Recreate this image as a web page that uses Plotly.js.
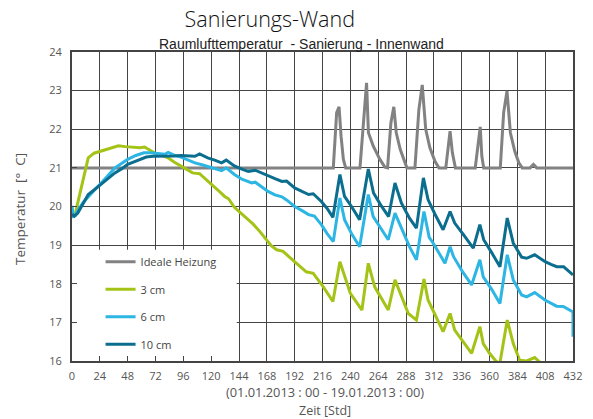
<!DOCTYPE html>
<html>
<head>
<meta charset="utf-8">
<script src="https://cdn.plot.ly/plotly-3.0.1.min.js"></script>
<style>html,body{margin:0;padding:0;background:#fff;}#chart{width:593px;height:419px;}</style>
</head>
<body>
<div id="chart"></div>
<script>
// ---- data ----
const seriesNames = ["Ideale Heizung", "3 cm", "6 cm", "10 cm"];
const xTicks = [0,24,48,72,96,120,144,168,192,216,240,264,288,312,336,360,384,408,432];
const yTicks = [16,17,18,19,20,21,22,23,24];

const hoursIdeal = [0,225.3,228.2,230.3,232,234,236,248.3,251.2,254,255.6,259.8,265.5,269.8,272.1,275,277.5,279.6,283,286.8,288.8,295.7,299.1,302,305,308.6,313,316.4,322.3,326,328,330.6,347.7,352,353.4,355,369.3,372.2,375.1,378,381.8,385.3,388.2,395,397.9,400.7,432];
const tempIdeal  = [21,21,22.43,22.58,21.82,21.22,21,21,22.12,23.2,21.91,21.56,21.22,21.02,21,22.17,22.58,21.91,21.48,21.13,21,21,22.51,23.15,22.0,21.52,21.17,21,21,21.95,21.39,21,21,22.06,21.3,21,21,22.43,22.99,21.91,21.43,21.13,21,21,21.09,21,21];

const hours3 = [0,2.6,5,9,14,19,24,32,40,46,54,58.6,62.6,71,77,82.8,88,94,99,104,110,115,120,126,131.6,135,140,147.4,152,156,162,168,172,176.5,182,187,192,202,208,216.7,225,231,240,250,255.5,261,272.7,278.5,290,297,303.5,307,320,326,330,337,344.6,351.7,354.6,360,366,369,375.3,380.5,386,392,399,403,410,420,432];
const temp3  = [19.8,19.78,20.1,20.6,21.26,21.38,21.43,21.5,21.57,21.55,21.52,21.52,21.54,21.39,21.33,21.26,21.15,21.04,20.95,20.87,20.85,20.72,20.57,20.42,20.26,20.2,19.98,19.78,19.66,19.55,19.35,19.14,18.98,18.88,18.84,18.7,18.57,18.31,18.27,17.92,17.54,18.57,17.75,17.32,18.53,17.92,17.32,18.1,17.23,17.06,18.12,17.58,16.76,17.23,16.8,16.5,16.2,16.89,16.45,16.2,15.98,15.95,17.06,16.45,16.02,16.0,16.09,15.98,15.85,15.7,15.5];

const hours6 = [0,1,3,6,10,14,20,25,31,37,43,48,55,62,68,74,80,83,88,94,100,106,112,117,123,129,133,140,147,155,158,164,169,175,181,185,192,198,204,209,215,220,225.3,231,235,241,248,255.5,259.7,266,272.7,278.5,284,291,297,303.5,308,311.5,321.6,326,329,337,344.6,351.7,354.6,362,369,375.3,380.5,387.7,392,399,407.8,417.8,423.6,432,432];
const temp6  = [20.02,19.75,19.78,19.95,20.12,20.26,20.45,20.6,20.8,21.0,21.12,21.22,21.32,21.39,21.39,21.37,21.35,21.4,21.33,21.28,21.2,21.13,21.08,21.03,20.98,20.93,21.0,20.83,20.7,20.61,20.63,20.5,20.39,20.3,20.25,20.17,20.0,19.9,19.79,19.75,19.53,19.3,19.09,20.22,19.66,19.3,18.96,20.31,19.74,19.45,19.14,19.83,19.44,18.96,18.62,19.87,19.2,19.05,18.53,18.96,18.7,18.3,17.97,18.62,18.18,17.85,17.49,18.75,18.1,17.71,17.66,17.77,17.58,17.42,17.41,17.27,16.63];

const hours10 = [0,2,5,9,14,20,25,31,37,43,48,54,60,64,70,76,82,88,94,100,106,110,117,123,129,133,140,147,152,158,164,169,175,181,185,192,198,204,208,215,220,225,231,235,241,248,255.5,260,266,273,278.5,284,291,297,303,307,313,320,326,330,338,346,351.7,355,362,369,375.3,380.5,387.7,392,399,408,413,418,424,432];
const temp10  = [19.8,19.75,19.83,20.05,20.31,20.45,20.57,20.72,20.87,20.98,21.09,21.16,21.22,21.28,21.3,21.3,21.3,21.31,21.32,21.31,21.3,21.36,21.26,21.2,21.13,21.2,21.05,20.96,20.91,20.94,20.86,20.78,20.72,20.65,20.66,20.48,20.4,20.31,20.33,20.13,19.95,19.72,20.83,20.26,20.0,19.66,20.97,20.35,20.05,19.74,20.61,20.09,19.7,19.44,20.74,20.18,19.8,19.4,19.87,19.57,19.25,18.92,19.53,19.14,18.8,18.44,19.7,19.05,18.69,18.66,18.75,18.57,18.5,18.44,18.44,18.23];

// ---- styles ----
const colors = ["#828282", "#a3c417", "#2db6e3", "#0b6e8f"];
const xs = [hoursIdeal, hours3, hours6, hours10];
const ys = [tempIdeal, temp3, temp6, temp10];

const traces = seriesNames.map((n, i) => ({
  type: "scatter", mode: "lines", name: n, x: xs[i], y: ys[i],
  legendgroup: "g" + i,
  line: {color: colors[i], width: 3},
  cliponaxis: true
}));

const tickFont = {family: "Open Sans, Noto Sans, sans-serif", size: 11, color: "#555"};
const axisCommon = {
  showgrid: true, gridcolor: "#444", gridwidth: 1,
  showline: true, linecolor: "#444", linewidth: 2, mirror: true,
  ticks: "inside", ticklen: 5, tickcolor: "#444", tickwidth: 1,
  zeroline: false, tickfont: tickFont, fixedrange: true
};

const layout = {
  width: 593, height: 419,
  margin: {l: 72, r: 20, t: 52, b: 58},
  paper_bgcolor: "#fff", plot_bgcolor: "#fff",
  title: {text: "Sanierungs-Wand", font: {family: "Open Sans, Noto Sans, sans-serif", size: 21.5, color: "#111", weight: 300},
          x: 0.455, xanchor: "center", xref: "container", y: 1 - 19/419, yanchor: "middle", yref: "container"},
  xaxis: Object.assign({}, axisCommon, {range: [0, 432], tickvals: xTicks, ticktext: xTicks.map(String), ticklabelstandoff: 4}),
  yaxis: Object.assign({}, axisCommon, {range: [16, 24], tickvals: yTicks, ticktext: yTicks.map(String), ticklabelstandoff: 6}),
  showlegend: true,
  legend: {x: 0.057, y: 0.368, xanchor: "left", yanchor: "top", bgcolor: "rgba(0,0,0,0)", borderwidth: 0,
           font: {family: "Open Sans, Noto Sans, sans-serif", size: 11, color: "#444"},
           traceorder: "grouped", tracegroupgap: 8.5},
  shapes: [{type: "rect", xref: "x", yref: "y", x0: 0, x1: 142, y0: 16, y1: 18.88,
            fillcolor: "#fff", line: {width: 0}, layer: "between"}],
  annotations: [
    {text: "Raumlufttemperatur\u00a0 - Sanierung - Innenwand", xref: "paper", yref: "paper", x: 0.459, y: (361-44)/309,
     xanchor: "center", yanchor: "middle", showarrow: false,
     font: {family: "Liberation Sans, Arial, sans-serif", size: 14, color: "#222"}},
    {text: "(01.01.2013 : 00 - 19.01.2013 : 00)", xref: "paper", yref: "paper", x: 0.504, y: -31/309,
     xanchor: "center", yanchor: "middle", showarrow: false,
     font: {family: "Open Sans, Noto Sans, sans-serif", size: 12.8, color: "#555"}},
    {text: "Zeit [Std]", xref: "paper", yref: "paper", x: 0.504, y: -49/309,
     xanchor: "center", yanchor: "middle", showarrow: false,
     font: {family: "Open Sans, Noto Sans, sans-serif", size: 12.5, color: "#555"}},
    {text: "Temperatur  [°  C]", xref: "paper", yref: "paper", x: -52/501, y: 0.492, textangle: -90,
     xanchor: "center", yanchor: "middle", showarrow: false,
     font: {family: "Open Sans, Noto Sans, sans-serif", size: 13.5, color: "#555"}}
  ]
};

Plotly.newPlot("chart", traces, layout, {displayModeBar: false, staticPlot: true});
</script>
</body>
</html>
